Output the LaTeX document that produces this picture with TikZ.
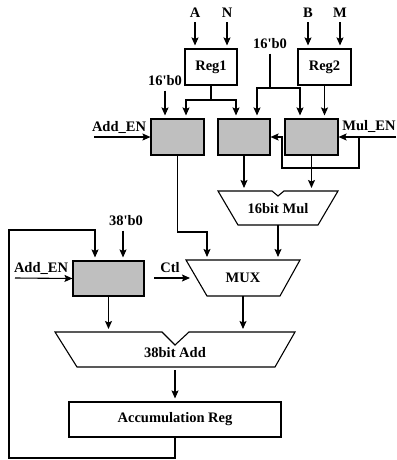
\documentclass[tikz,border=0pt]{standalone}
\usepackage{fontspec}
\setmainfont{Liberation Serif}
\usepackage{tikz}
\usetikzlibrary{arrows.meta,positioning,calc}

\begin{document}
\begin{tikzpicture}[x=1pt, y=-1pt, line width=1.1pt, >={Stealth[length=8pt,width=7pt,inset=1.5pt]},
    lbl/.style={font=\fontsize{14.5}{17}\selectfont\bfseries, inner sep=0pt},
    regbox/.style={draw, fill=white, minimum height=36pt, font=\fontsize{14.5}{17}\selectfont\bfseries},
    enbox/.style={draw, fill=black!25, minimum height=36pt}]
  \useasboundingbox (0,0) rectangle (396,460);

  % Input registers
  \node[regbox, minimum width=52pt] (reg1) at (211,67) {Reg1};
  \node[regbox, minimum width=53pt] (reg2) at (324.5,67) {Reg2};
  \node[lbl] (inA) at (195,13) {A};
  \node[lbl] (inN) at (227,13) {N};
  \node[lbl] (inB) at (308,13) {B};
  \node[lbl] (inM) at (340,13) {M};
  \foreach \n/\r in {inA/reg1, inN/reg1, inB/reg2, inM/reg2}
    \draw[->] ([yshift=-4pt]\n.south) -- ([yshift=3pt]\n |- \r.north);

  % Enable gates
  \node[enbox, minimum width=53pt] (g1) at (177.5,137) {};
  \node[enbox, minimum width=52pt] (g2) at (244,137) {};
  \node[enbox, minimum width=53pt] (g3) at (311.5,137) {};
  \node[lbl] (zeroA) at (165,81) {16\textquotesingle b0};
  \node[lbl] (zeroB) at (270,44) {16\textquotesingle b0};
  \draw[->] ([yshift=-4pt]zeroA.south) -- ([yshift=3pt]zeroA |- g1.north);
  \draw (reg1.south) -- (211,100) coordinate (r1fork);
  \draw[->] (r1fork) -| ([xshift=8.5pt,yshift=3pt]g1.north);
  \draw[->] (r1fork) -| ([xshift=-8pt,yshift=3pt]g2.north);
  \draw ([yshift=-4pt]zeroB.south) -- (270,88) coordinate (zfork);
  \draw[->] (zfork) -| ([xshift=13pt,yshift=3pt]g2.north);
  \draw[->] (zfork) -| ([xshift=-11.5pt,yshift=3pt]g3.north);
  \draw[->] (reg2.south) -- ([yshift=3pt]reg2.south |- g3.north);

  % Enable signals
  \node[lbl] (addenA) at (119,127) {Add\_EN};
  \node[lbl] (mulen) at (369,126) {Mul\_EN};
  \coordinate (addinA) at (94,137);
  \coordinate (mulin) at (396,137);
  \coordinate (mulsplit) at (359,137);
  \draw[->] (addinA) -- (g1.west);
  \draw[->] (mulin) -- (g3.east);
  \draw[->] (mulsplit) |- (282,168) -- (282,137) -- (g2.east);

  % 16bit multiplier
  \draw (218,191) -- (272,191) -- (278,196) -- (284,191) -- (338,191) -- (318,225) -- (238,225) -- cycle;
  \node[lbl] (mul) at (278,209) {16bit Mul};
  \draw[->] (g2.south) -- ([yshift=3pt]g2.south |- 0,191);
  \draw[->] (g3.south) -- ([yshift=3pt]g3.south |- 0,191);

  % Multiplexer
  \draw (186,260) -- (300,260) -- (280,296) -- (207,296) -- cycle;
  \node[lbl] (mux) at (243,278) {MUX};
  \draw[->] (g1.south) |- (207,232) -- (207,257);
  \draw[->] (278,225) -- (278,257);
  \node[lbl] (ctl) at (170,268) {Ctl};
  \draw[->] (154,278) -- (190,278);

  % Accumulator input gate
  \node[enbox, minimum width=71pt, minimum height=35pt] (g4) at (108.5,278.5) {};
  \node[lbl] (zeroC) at (126,221) {38\textquotesingle b0};
  \node[lbl] (addenB) at (41,268) {Add\_EN};
  \coordinate (addinB) at (15,278);
  \draw[->] ([xshift=14.5pt,yshift=-4pt]g4.north |- zeroC.south) -- ([xshift=14.5pt,yshift=3pt]g4.north);
  \draw[->] (addinB) -- (g4.west);

  % 38bit adder
  \draw (55,332) -- (162,332) -- (175,345) -- (189,332) -- (295,332) -- (275,367) -- (77,367) -- cycle;
  \node[lbl] (add) at (175,353) {38bit Add};
  \draw[->] (g4.south) -- ([yshift=3pt]g4.south |- 0,332);
  \draw[->] (243,296) -- (243,329);

  % Accumulation register and feedback
  \node[regbox, minimum width=212pt, minimum height=35pt] (acc) at (175,419.5) {Accumulation Reg};
  \draw[->] (175,370) -- ([yshift=3pt]acc.north);
  \draw[->] (acc.south) -- (175,458) -| (9,230) -| ([xshift=-13.5pt,yshift=3pt]g4.north);
\end{tikzpicture}
\end{document}
